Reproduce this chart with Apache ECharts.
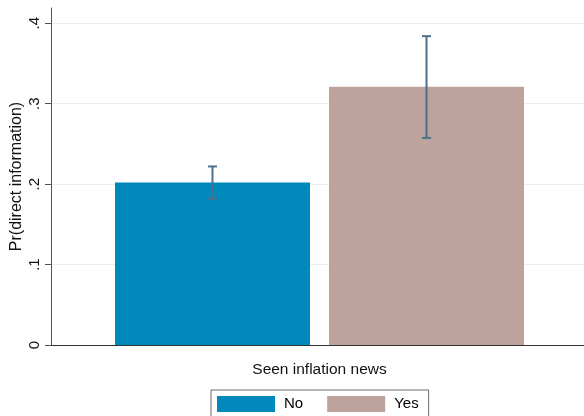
<!DOCTYPE html>
<html>
<head>
<meta charset="utf-8">
<script src="https://cdn.jsdelivr.net/npm/echarts@6/dist/echarts.min.js"></script>
<style>
html,body{margin:0;padding:0;background:#fff;}
#chart{width:584px;height:416px;}
</style>
</head>
<body>
<div id="chart"></div>
<script>
// ---- data ----
var groups = ['No', 'Yes'];
var means = [0.202, 0.321];
var lower = [0.182, 0.2575];
var upper = [0.222, 0.384];
var yTickValues = [0, 0.1, 0.2, 0.3, 0.4];
var yTickLabels = ['0', '.1', '.2', '.3', '.4'];
var xTitle = 'Seen inflation news';
var yTitle = 'Pr(direct information)';

// ---- styles ----
var colors = ['#0189bc', '#bea29c'];
var BAR_W = 195;
var BAR_GAP = 19;
var FONT = 'Liberation Sans, Arial, Helvetica, sans-serif';

var chart = echarts.init(document.getElementById('chart'), null, {renderer: 'canvas'});

var barSeries = groups.map(function (g, i) {
  return {
    name: g,
    type: 'bar',
    data: [means[i]],
    barWidth: BAR_W,
    barGap: (BAR_GAP / BAR_W * 100) + '%',
    itemStyle: {color: colors[i]},
    emphasis: {disabled: true},
    z: 2
  };
});

var errData = groups.map(function (g, i) { return [0, lower[i], upper[i], i]; });

var errSeries = {
  type: 'custom',
  name: 'ci',
  data: errData,
  encode: {x: 0, y: [1, 2]},
  z: 5,
  silent: true,
  renderItem: function (params, api) {
    var n = groups.length;
    var idx = api.value(3);
    var off = (idx - (n - 1) / 2) * (BAR_W + BAR_GAP);
    var lo = api.coord([api.value(0), api.value(1)]);
    var hi = api.coord([api.value(0), api.value(2)]);
    var x = lo[0] + off;
    var cap = 4.5;
    var style = {stroke: '#4d6f8c', lineWidth: 2};
    return {
      type: 'group',
      children: [
        {type: 'line', shape: {x1: x, y1: lo[1], x2: x, y2: hi[1]}, style: style},
        {type: 'line', shape: {x1: x - cap, y1: lo[1], x2: x + cap, y2: lo[1]}, style: style},
        {type: 'line', shape: {x1: x - cap, y1: hi[1], x2: x + cap, y2: hi[1]}, style: style}
      ]
    };
  }
};

var option = {
  animation: false,
  backgroundColor: '#ffffff',
  textStyle: {fontFamily: FONT},
  grid: {left: 51, right: -4, top: 8, bottom: 71, containLabel: false, outerBoundsMode: 'none'},
  legend: {
    data: groups,
    left: 211,
    top: 390,
    orient: 'horizontal',
    icon: 'rect',
    itemWidth: 58,
    itemHeight: 16,
    itemGap: 24,
    padding: [6, 10, 8, 6],
    borderColor: '#6a6a6a',
    borderWidth: 1,
    backgroundColor: '#fff',
    textStyle: {fontSize: 15, color: '#000', fontFamily: FONT, padding: [0, 0, 0, 4]}
  },
  xAxis: {
    type: 'category',
    data: [''],
    name: xTitle,
    nameLocation: 'middle',
    nameGap: 17,
    nameTextStyle: {fontSize: 15.5, color: '#111', fontFamily: FONT},
    axisLine: {show: true, lineStyle: {color: '#333', width: 1.2}},
    axisTick: {show: false},
    axisLabel: {show: false},
    splitLine: {show: false}
  },
  yAxis: {
    type: 'value',
    min: 0,
    max: 0.419,
    interval: 0.1,
    name: yTitle,
    nameLocation: 'middle',
    nameRotate: 90,
    nameGap: 26,
    nameMoveOverlap: false,
    nameTextStyle: {fontSize: 16, color: '#111', fontFamily: FONT},
    axisLine: {show: true, lineStyle: {color: '#555', width: 1}},
    axisTick: {show: true, length: 6, lineStyle: {color: '#555', width: 1}, customValues: yTickValues},
    axisLabel: {
      show: true,
      rotate: 90,
      margin: 9,
      fontSize: 15,
      color: '#111',
      fontFamily: FONT,
      customValues: yTickValues,
      formatter: function (v) {
        for (var i = 0; i < yTickValues.length; i++) {
          if (Math.abs(v - yTickValues[i]) < 1e-9) return yTickLabels[i];
        }
        return '';
      }
    },
    splitLine: {show: true, lineStyle: {color: '#e9efef', width: 1.2}}
  },
  series: barSeries.concat([errSeries])
};

chart.setOption(option);
</script>
</body>
</html>
